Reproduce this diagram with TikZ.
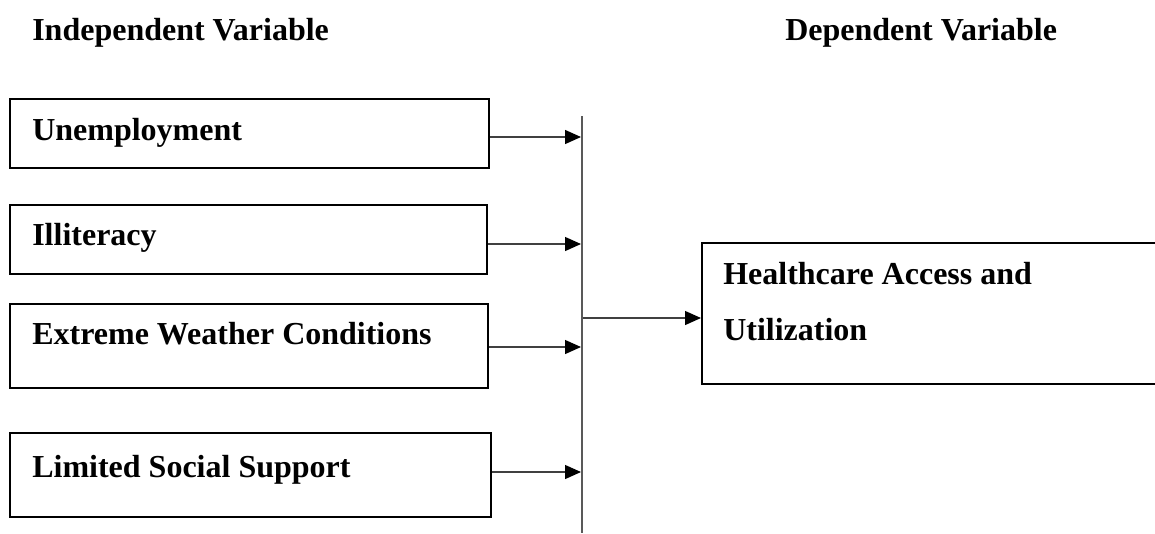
\documentclass[tikz,border=0pt]{standalone}
\usepackage{fontspec}
\setmainfont{Liberation Serif}
\usetikzlibrary{arrows.meta}
\begin{document}
\begin{tikzpicture}[x=0.75pt,y=-0.75pt,
  box/.style={draw=black,line width=1.5pt,rectangle,inner sep=0pt,anchor=north west},
  lbl/.style={inner sep=0pt,anchor=base west,font=\fontsize{24}{28}\selectfont\bfseries},
  arr/.style={draw=black!75,line width=1pt,-{Triangle[length=12pt,width=10.5pt,fill=black,color=black]}},
  vline/.style={draw=black!65,line width=1.5pt}]
\useasboundingbox (0,0) rectangle (1155,533);
% headers
\node[lbl] (hi) at (32,40) {Independent Variable};
\node[lbl] (hd) at (785,40) {Dependent Variable};
% independent boxes
\node[box,minimum width=479*0.75pt,minimum height=69*0.75pt] (b1) at (9,98) {};
\node[box,minimum width=477*0.75pt,minimum height=69*0.75pt] (b2) at (9,204) {};
\node[box,minimum width=478*0.75pt,minimum height=84*0.75pt] (b3) at (9,303) {};
\node[box,minimum width=481*0.75pt,minimum height=84*0.75pt] (b4) at (9,432) {};
\node[lbl] (t1) at (32,140) {Unemployment};
\node[lbl] (t2) at (32,245) {Illiteracy};
\node[lbl] (t3) at (32,344) {Extreme Weather Conditions};
\node[lbl] (t4) at (32,477) {Limited Social Support};
% dependent box
\node[box,minimum width=460*0.75pt,minimum height=141*0.75pt] (h) at (701,242) {};
\node[lbl] (th1) at (723,284) {Healthcare Access and};
\node[lbl] (th2) at (723,340) {Utilization};
% vertical bar
\coordinate (vtop) at (582,116);
\coordinate (vbot) at (582,533);
\draw[vline] (vtop) -- (vbot);
\coordinate (j1) at (581,137);
\coordinate (j2) at (581,244);
\coordinate (j3) at (581,347);
\coordinate (j4) at (581,472);
\coordinate (m) at (583,318);
\draw[arr] (b1.east |- j1) -- (j1);
\draw[arr] (b2.east |- j2) -- (j2);
\draw[arr] (b3.east |- j3) -- (j3);
\draw[arr] (b4.east |- j4) -- (j4);
\draw[arr] (m) -- (h.west |- m);
\end{tikzpicture}
\end{document}
